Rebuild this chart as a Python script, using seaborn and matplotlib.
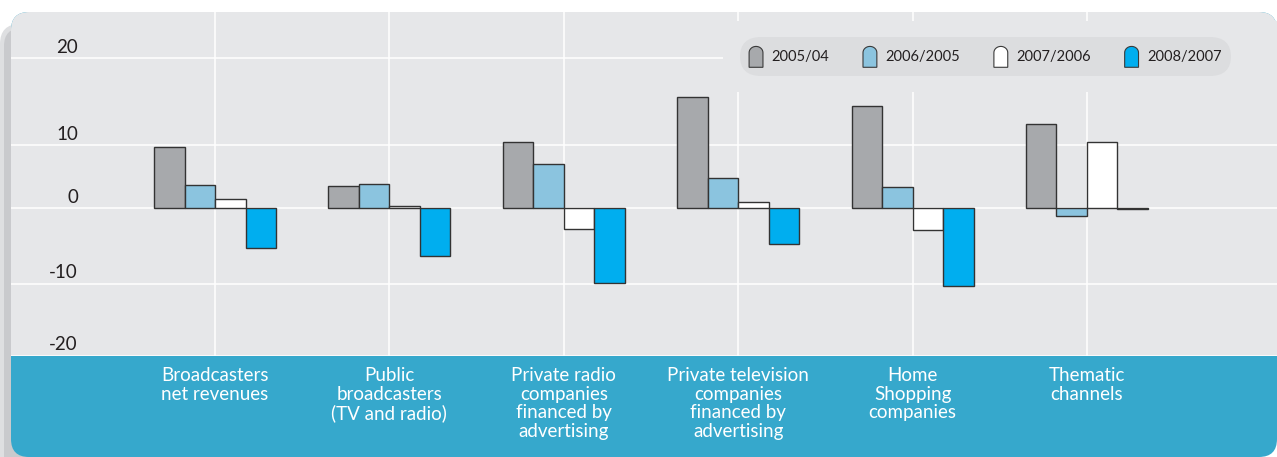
import matplotlib
matplotlib.use('Agg')
import numpy as np
import pandas as pd
import seaborn as sns
import matplotlib.pyplot as plt
from matplotlib.patches import FancyBboxPatch, Patch, Polygon, Rectangle
from matplotlib.legend_handler import HandlerPatch
from matplotlib.transforms import IdentityTransform, ScaledTranslation, blended_transform_factory

# data (growth, %)
categories = ["Broadcasters\nnet revenues",
              "Public\nbroadcasters\n(TV and radio)",
              "Private radio\ncompanies\nfinanced by\nadvertising",
              "Private television\ncompanies\nfinanced by\nadvertising",
              "Home\nShopping\ncompanies",
              "Thematic\nchannels"]
periods = ["2005/04", "2006/2005", "2007/2006", "2008/2007"]
g_2005_04 = [8.2, 3.0, 8.8, 14.9, 13.7, 11.3]
g_2006_05 = [3.1, 3.2, 5.9, 4.1, 2.9, -1.0]
g_2007_06 = [1.2, 0.35, -2.7, 0.9, -2.9, 8.9]
g_2008_07 = [-5.3, -6.4, -9.9, -4.7, -10.3, -0.1]
ytick_labels = ["20", "10", "0", "-10", "-20"]

colors = ["#a7a9ac", "#8bc4df", "#ffffff", "#00aeef"]
panel = "#e6e7e9"
band = "#36a8cc"
W, H = 1277, 457

df = pd.DataFrame({
    "category": np.tile(categories, 4),
    "period": np.repeat(periods, len(categories)),
    "value": g_2005_04 + g_2006_05 + g_2007_06 + g_2008_07,
})

plt.rcParams['font.family'] = ['Lato', 'DejaVu Sans']
fig = plt.figure(figsize=(W / 100, H / 100), dpi=100)


def box(x0, y0, x1, y1, color, r, z):
    # pixel coords, y measured from top
    p = FancyBboxPatch((x0, H - y1), x1 - x0, y1 - y0,
                       boxstyle=f"round,pad=0,rounding_size={r}",
                       transform=IdentityTransform(), fc=color, ec='none', zorder=z)
    fig.add_artist(p)


# shadow + panel + blue band
box(0, 24, 60, 480, "#dedfe1", 20, -5)
box(4, 28, 60, 480, "#c9cacd", 18, -4)
box(11, 12, 1277, 457, band, 18, -3)
box(11, 12, 1277, 356, panel, 18, -2)
fig.add_artist(Rectangle((11, H - 356), 1266, 300, transform=IdentityTransform(),
                         fc=panel, ec='none', zorder=-1))

ax = fig.add_axes([11 / W, (H - 356) / H, (W - 11) / W, 344 / H])
ax.set_facecolor('none')

sns.barplot(data=df, x="category", y="value", hue="period", palette=colors,
            width=0.7, errorbar=None, saturation=1, edgecolor="#333333",
            linewidth=1.0, legend=False, ax=ax)

ax.set_xlim(-1.17, 6.09)
ax.set_ylim(-19.7, 26.2)
ytick_pos = [20, 8.4, 0, -10.1, -19.7]
ax.set_yticks(ytick_pos)
ax.set_yticklabels([])
ax.set_xticks(range(len(categories)))
ax.set_xticklabels(categories, color="white", fontsize=13.5, linespacing=1.12)
ax.tick_params(axis='both', length=0)
ax.tick_params(axis='x', pad=8)
ax.set_xlabel("")
ax.set_ylabel("")
for s in ax.spines.values():
    s.set_visible(False)
ax.set_axisbelow(True)
ax.grid(True, color="white", linewidth=1.1)

trans = blended_transform_factory(ax.transAxes, ax.transData) + \
    ScaledTranslation(0, 2 / 72, fig.dpi_scale_trans)
for v, lab in zip(ytick_pos, ytick_labels):
    ax.text(67 / 1266, v, lab, transform=trans, ha='right', va='bottom',
            fontsize=13.5, color="#231f20")

# cover gridlines behind the legend
ax.add_patch(Rectangle((723, H - 92), 600, 71, transform=IdentityTransform(),
                       fc=panel, ec='none', zorder=0.8))


class ArchHandler(HandlerPatch):
    def create_artists(self, legend, orig_handle, xdescent, ydescent,
                       width, height, fontsize, trans):
        x0, y0 = -xdescent, -ydescent
        r = width / 2
        t = np.linspace(np.pi, 0, 16)
        top = np.column_stack([x0 + r + r * np.cos(t), y0 + height - r + r * 0.9 * np.sin(t)])
        pts = np.vstack([[x0, y0], top, [x0 + width, y0]])
        p = Polygon(pts, closed=True, fc=orig_handle.get_facecolor(),
                    ec="#3a3a3a", lw=0.8, transform=trans)
        return [p]


handles = [Patch(fc=c, label=l) for c, l in zip(colors, periods)]
leg = ax.legend(handles=handles, ncol=4, loc='center',
                bbox_to_anchor=(985.5, H - 56.5), bbox_transform=IdentityTransform(),
                handler_map={Patch: ArchHandler()}, fontsize=10.5,
                handlelength=0.95, handleheight=1.9, handletextpad=0.6,
                columnspacing=2.3, borderpad=0.6, frameon=True, fancybox=True,
                labelcolor="#231f20")
fr = leg.get_frame()
fr.set_facecolor("#dcdddf")
fr.set_edgecolor('none')
fr.set_alpha(1)
fr.set_boxstyle("round,pad=0,rounding_size=1.4")

fig.savefig("out.png", dpi=100)
